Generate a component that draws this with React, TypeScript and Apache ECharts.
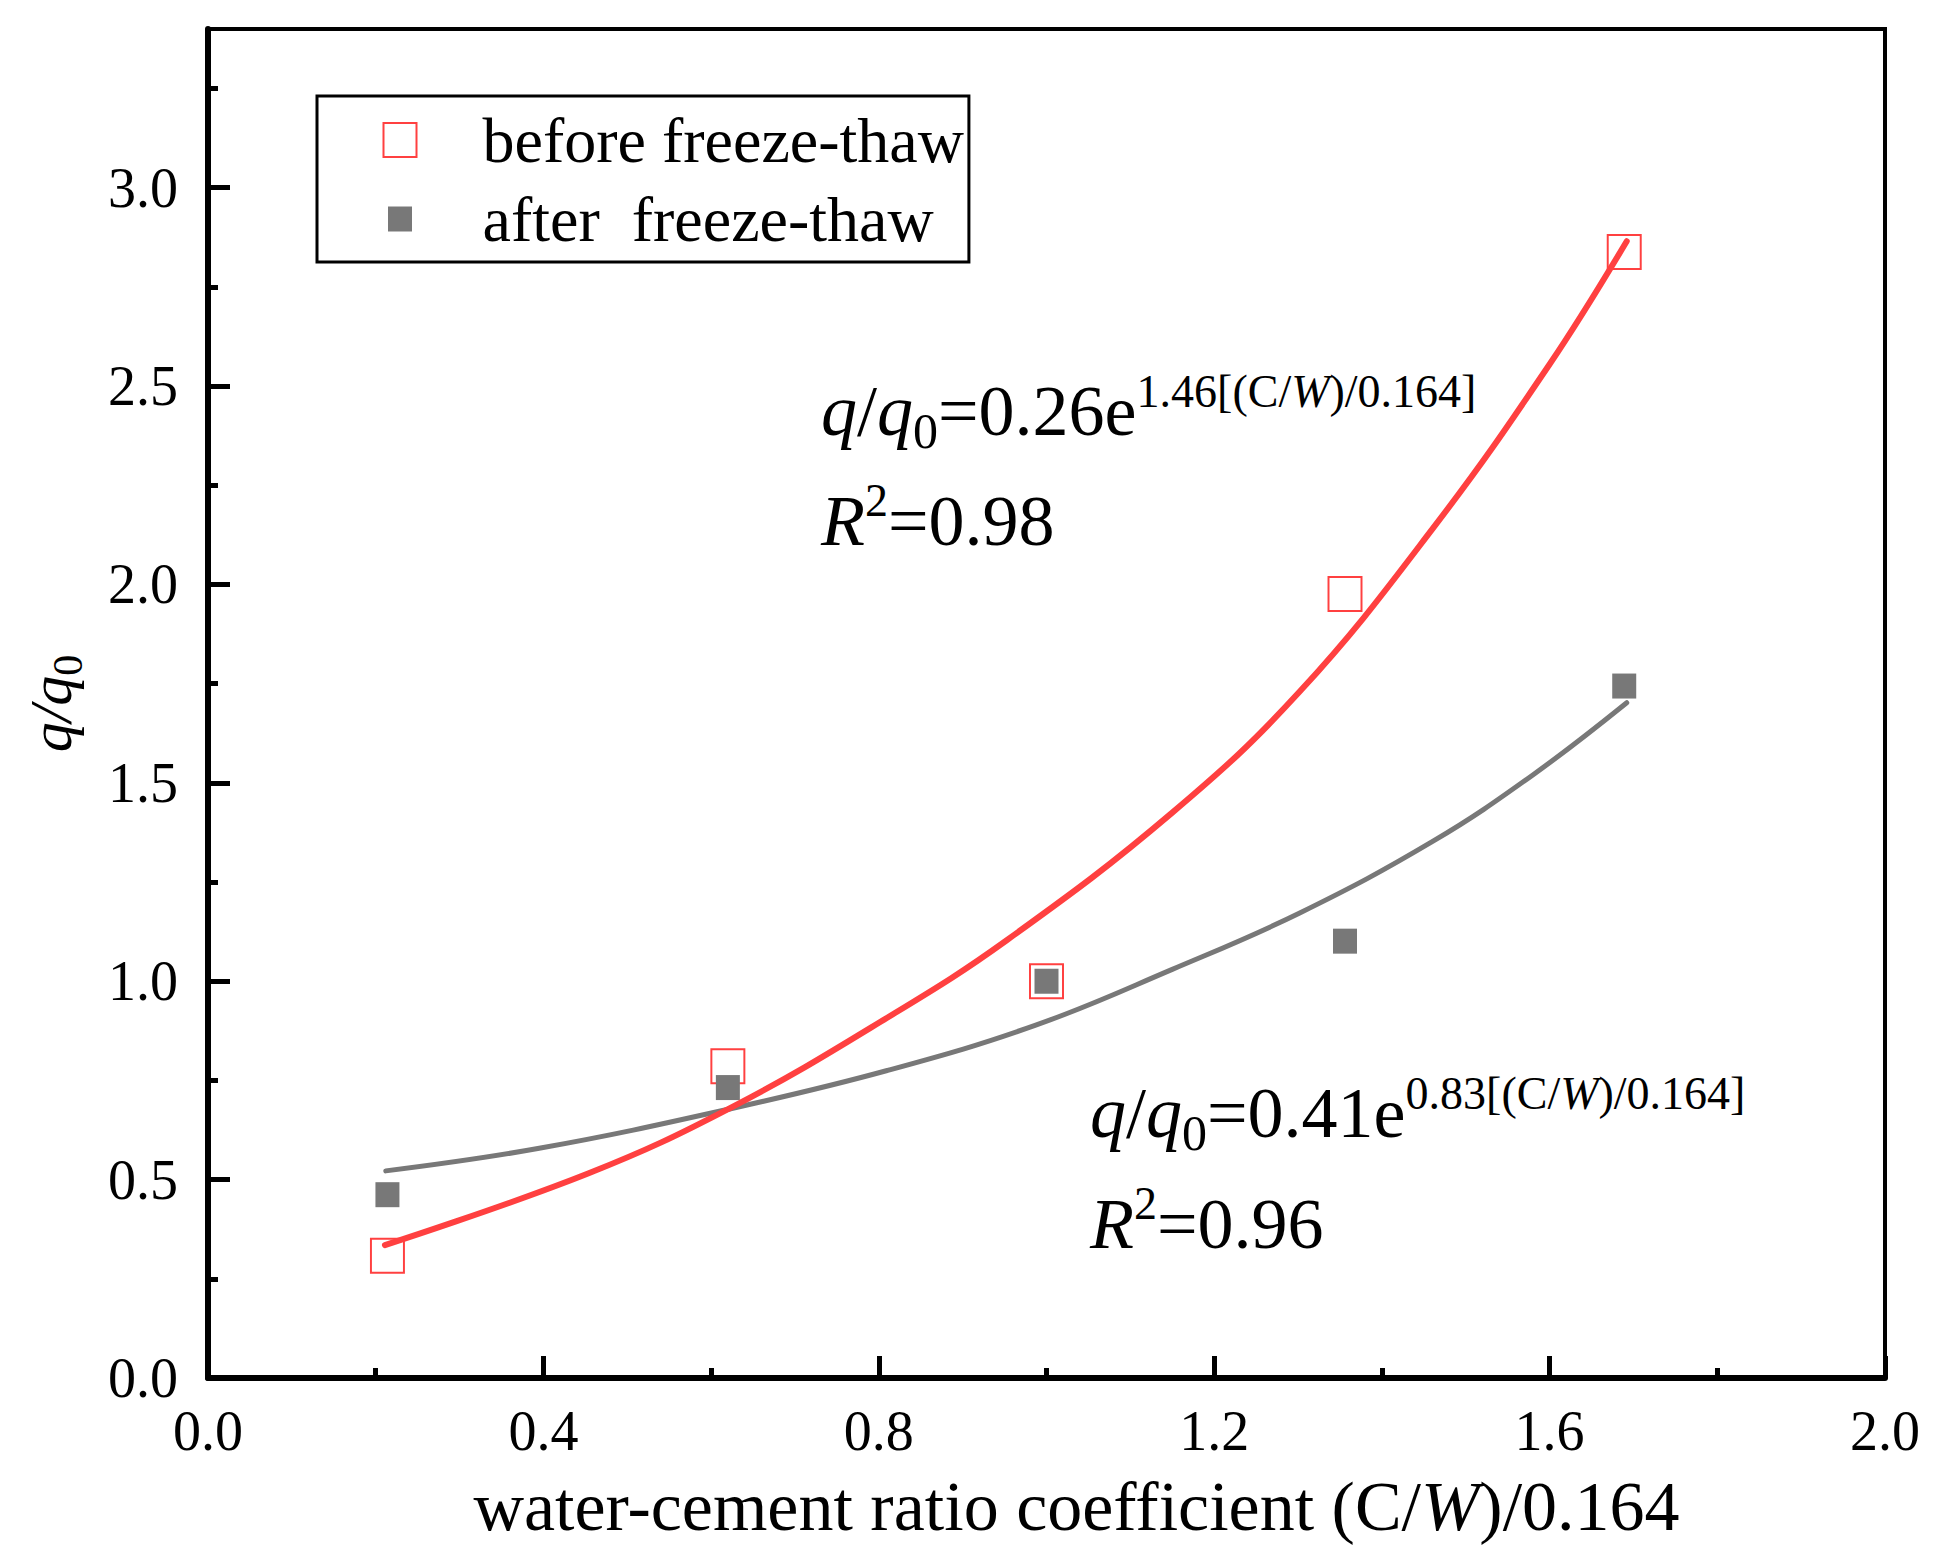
import { useEffect, useRef } from 'react';
import * as echarts from 'echarts';

const FONT = '"Liberation Serif", "Times New Roman", serif';
const RED = '#FF4040';
const GRAY = '#787878';

// measured points, x = (C/W)/0.164
const ratioX = [0.214, 0.62, 1.0, 1.356, 1.689];
const beforeQ = [0.308, 0.786, 1.0, 1.976, 2.838];
const afterQ = [0.462, 0.732, 1.0, 1.101, 1.744];

// fitted curves
const beforeFitX = [0.211, 0.454, 0.626, 0.81, 0.953, 1.15, 1.302, 1.461, 1.6, 1.692];
const beforeFitY = [0.335, 0.516, 0.684, 0.908, 1.104, 1.425, 1.73, 2.142, 2.555, 2.865];
const afterFitX = [0.212, 0.395, 0.626, 0.81, 0.988, 1.15, 1.302, 1.461, 1.58, 1.692];
const afterFitY = [0.522, 0.579, 0.68, 0.775, 0.89, 1.03, 1.172, 1.353, 1.52, 1.702];

// ticks
const yMajorTicks = [0, 0.5, 1.0, 1.5, 2.0, 2.5, 3.0];
const yMinorTicks = [0.25, 0.75, 1.25, 1.75, 2.25, 2.75, 3.25];
const xTickStep = 0.4;

const legendNames = ['before freeze-thaw', 'after  freeze-thaw'];

const eqRich = {
  i: { fontSize: 72, fontStyle: 'italic', lineHeight: 86, fontFamily: FONT, color: '#000' },
  m: { fontSize: 72, lineHeight: 86, fontFamily: FONT, color: '#000' },
  sub: { fontSize: 50, height: 46, verticalAlign: 'bottom', fontFamily: FONT, color: '#000' },
  sup: { fontSize: 46, height: 46, verticalAlign: 'top', fontFamily: FONT, color: '#000' },
  supi: { fontSize: 46, height: 46, verticalAlign: 'top', fontStyle: 'italic', fontFamily: FONT, color: '#000' },
  sup2: { fontSize: 46, height: 44, verticalAlign: 'top', fontFamily: FONT, color: '#000' }
};

const eqText = (x: number, y: number, text: string) => ({
  type: 'text',
  x,
  y,
  z: 10,
  style: { text, rich: eqRich, fill: '#000', align: 'left', verticalAlign: 'top', font: `72px ${FONT}` }
});

export default function App() {
  const chartRef = useRef<HTMLDivElement>(null);

  useEffect(() => {
    if (!chartRef.current) return;
    document.body.style.margin = '0';
    const chart = echarts.init(chartRef.current, null, { renderer: 'svg' });

    const axisBlack = { color: '#000' };

    chart.setOption({
      animation: false,
      backgroundColor: '#fff',
      textStyle: { fontFamily: FONT, color: '#000' },
      grid: {
        left: 208,
        right: 53,
        top: 29,
        bottom: 177,
        show: true,
        borderColor: '#000',
        borderWidth: 4,
        backgroundColor: 'transparent'
      },
      legend: {
        left: 317,
        top: 96,
        orient: 'vertical',
        selectedMode: false,
        borderColor: '#000',
        borderWidth: 3,
        padding: [12, 5, 11, 62],
        itemGap: 15,
        itemWidth: 33,
        itemHeight: 34,
        textStyle: { fontSize: 64, lineHeight: 64, fontFamily: FONT, color: '#000', padding: [0, 0, 0, 61] },
        data: [
          { name: legendNames[0], icon: 'rect', itemStyle: { color: 'rgba(255,255,255,0)', borderColor: RED, borderWidth: 2 } },
          { name: legendNames[1], icon: 'rect', itemStyle: { color: GRAY, borderColor: '#fff', borderWidth: 9 } }
        ]
      },
      xAxis: {
        type: 'value',
        min: 0,
        max: 2,
        interval: xTickStep,
        name: '{n|water-cement ratio coefficient (C/}{i|W}{n|)/0.164}',
        nameLocation: 'middle',
        nameGap: 93,
        nameTextStyle: {
          fontSize: 70,
          fontFamily: FONT,
          color: '#000',
          padding: [0, 0, 0, 60],
          rich: {
            n: { fontSize: 70, lineHeight: 70, fontFamily: FONT, color: '#000' },
            i: { fontSize: 70, lineHeight: 70, fontStyle: 'italic', fontFamily: FONT, color: '#000' }
          }
        },
        axisLine: { lineStyle: { ...axisBlack, width: 6 } },
        axisTick: { inside: true, length: 22, lineStyle: { ...axisBlack, width: 5 } },
        minorTick: { show: true, splitNumber: 2, length: 10, lineStyle: { ...axisBlack, width: 5 } },
        axisLabel: {
          fontSize: 56,
          fontFamily: FONT,
          color: '#000',
          margin: 25,
          formatter: (v: number) => v.toFixed(1)
        },
        splitLine: { show: false }
      },
      yAxis: [
        {
          type: 'value',
          min: 0,
          max: 3.4,
          interval: 0.5,
          name: '{i|q/q}{sub|0}',
          nameLocation: 'middle',
          nameRotate: 90,
          nameGap: 124,
          nameTextStyle: {
            fontSize: 60,
            fontFamily: FONT,
            color: '#000',
            padding: [0, 0, 0, 0],
            rich: {
              i: { fontSize: 60, lineHeight: 66, fontStyle: 'italic', fontFamily: FONT, color: '#000' },
              sub: { fontSize: 42, height: 32, verticalAlign: 'bottom', fontFamily: FONT, color: '#000' }
            }
          },
          axisLine: { show: true, lineStyle: { ...axisBlack, width: 6 } },
          axisTick: { inside: true, length: 22, customValues: yMajorTicks, lineStyle: { ...axisBlack, width: 5 } },
          axisLabel: {
            fontSize: 56,
            fontFamily: FONT,
            color: '#000',
            margin: 30,
            customValues: yMajorTicks,
            formatter: (v: number) => v.toFixed(1)
          },
          splitLine: { show: false }
        },
        {
          type: 'value',
          min: 0,
          max: 3.4,
          position: 'left',
          axisLine: { show: false },
          axisLabel: { show: false },
          axisTick: { show: true, inside: true, length: 10, customValues: yMinorTicks, lineStyle: { ...axisBlack, width: 5 } },
          splitLine: { show: false }
        }
      ],
      series: [
        {
          name: 'before fit',
          type: 'line',
          data: beforeFitX.map((x, i) => [x, beforeFitY[i]]),
          smooth: 0.4,
          showSymbol: false,
          symbol: 'none',
          lineStyle: { color: RED, width: 6, cap: 'round' },
          itemStyle: { color: RED },
          z: 5
        },
        {
          name: 'after fit',
          type: 'line',
          data: afterFitX.map((x, i) => [x, afterFitY[i]]),
          smooth: 0.4,
          showSymbol: false,
          symbol: 'none',
          lineStyle: { color: GRAY, width: 5, cap: 'round' },
          itemStyle: { color: GRAY },
          z: 4
        },
        {
          name: legendNames[0],
          type: 'scatter',
          symbol: 'rect',
          symbolSize: [33, 34],
          itemStyle: { color: 'rgba(255,255,255,0)', borderColor: RED, borderWidth: 2, opacity: 1 },
          data: ratioX.map((x, i) => [x, beforeQ[i]]),
          z: 3
        },
        {
          name: legendNames[1],
          type: 'scatter',
          symbol: 'rect',
          symbolSize: [24, 25],
          itemStyle: { color: GRAY, opacity: 1 },
          data: ratioX.map((x, i) => [x, afterQ[i]]),
          z: 3
        }
      ],
      graphic: [
        eqText(821, 368, '{i|q}{m|/}{i|q}{sub|0}{m|=0.26e}{sup|1.46[(C/}{supi|W}{sup|)/0.164]}'),
        eqText(821, 478, '{i|R}{sup2|2}{m|=0.98}'),
        eqText(1090, 1070, '{i|q}{m|/}{i|q}{sub|0}{m|=0.41e}{sup|0.83[(C/}{supi|W}{sup|)/0.164]}'),
        eqText(1090, 1181, '{i|R}{sup2|2}{m|=0.96}')
      ]
    });

    return () => chart.dispose();
  }, []);

  return <div ref={chartRef} style={{ width: 1938, height: 1555 }} />;
}
